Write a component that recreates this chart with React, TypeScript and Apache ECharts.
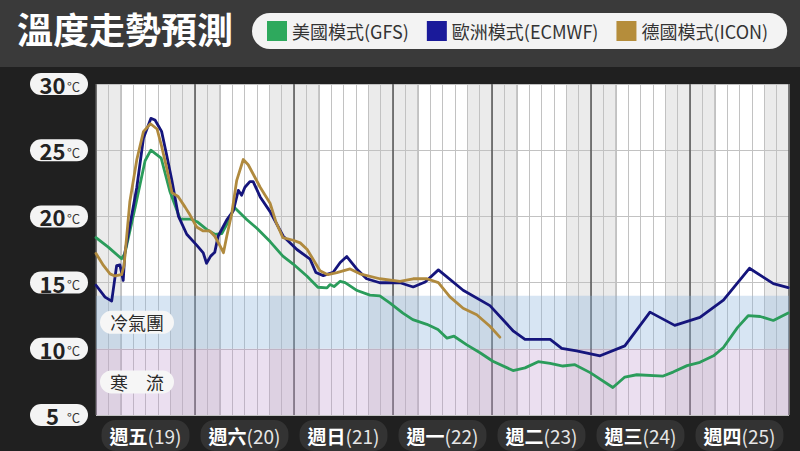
import React, { useEffect, useRef } from "react";
import * as echarts from "echarts";

const FONT = "'Noto Sans CJK TC', 'Noto Sans', sans-serif";

const titleText = "溫度走勢預測";
const seriesNames = ["美國模式(GFS)", "歐洲模式(ECMWF)", "德國模式(ICON)"];
const legendColors = ["#2ea95d", "#1a1a9a", "#b58d3b"];
const lineColors = ["#2b9c5b", "#15157c", "#b08a3e"];

const dayLabels = ["週五", "週六", "週日", "週一", "週二", "週三", "週四"];
const dayDates = ["19", "20", "21", "22", "23", "24", "25"];

// hours counted from Friday 19th 00:00
const gfsHours = [0, 2.9, 6.2, 7.0, 9.5, 11.9, 13.3, 15.8, 17.9, 20.4, 22.8, 24.5, 26.9, 28.8, 30.5, 32.5, 33.5, 36.6, 39.0, 42.2, 45.3, 47.8, 51.1, 53.8, 56.0, 56.7, 57.7, 59.2, 60.4, 63.3, 66.4, 68.8, 71.3, 74.4, 76.8, 80.2, 82.9, 85.1, 86.8, 89.9, 93.1, 96.2, 101.1, 104.0, 107.2, 110.1, 113.2, 116.1, 119.8, 125.3, 128.2, 131.1, 137.5, 139.9, 143.3, 146.4, 149.7, 152.1, 155.5, 158.1, 161.0, 164.2, 167.8];
const gfsTemps = [18.4, 17.7, 16.8, 17.2, 20.7, 24.2, 25.0, 24.4, 21.9, 19.8, 19.8, 19.6, 19.0, 18.65, 18.7, 19.85, 20.7, 19.75, 19.1, 18.1, 17.0, 16.4, 15.5, 14.65, 14.6, 14.85, 14.7, 15.1, 15.0, 14.4, 14.05, 14.0, 13.45, 12.7, 12.2, 11.85, 11.45, 10.8, 10.95, 10.3, 9.7, 9.06, 8.36, 8.56, 9.03, 8.9, 8.7, 8.8, 8.2, 7.08, 7.87, 8.04, 7.94, 8.24, 8.73, 8.98, 9.47, 10.1, 11.6, 12.5, 12.44, 12.14, 12.7];

const ecmwfHours = [0, 2.2, 3.8, 5.0, 5.8, 6.6, 7.0, 9.9, 11.5, 13.3, 14.3, 15.9, 17.1, 18.4, 20.0, 22.0, 24.4, 26.0, 26.8, 27.8, 28.8, 29.6, 31.7, 33.3, 34.5, 35.3, 36.1, 37.3, 38.1, 39.8, 42.2, 45.4, 48.7, 51.9, 53.3, 55.1, 57.5, 59.2, 60.8, 63.2, 65.6, 68.8, 73.7, 76.9, 79.8, 83.0, 89.0, 95.5, 101.2, 104.0, 110.1, 112.9, 116.5, 122.2, 128.2, 134.3, 140.3, 146.4, 152.1, 158.4, 164.2, 167.8];
const ecmwfTemps = [14.8, 13.9, 13.6, 16.28, 16.33, 15.16, 17.26, 22.2, 25.9, 27.4, 27.28, 26.42, 24.68, 22.7, 20.0, 18.65, 17.83, 17.24, 16.46, 17.0, 17.3, 18.5, 19.74, 20.43, 21.97, 21.6, 22.2, 22.63, 22.63, 21.47, 20.36, 18.5, 17.5, 16.77, 15.76, 15.53, 15.78, 16.52, 16.97, 16.03, 15.29, 14.99, 14.99, 14.67, 15.04, 15.96, 14.42, 13.26, 11.33, 10.71, 10.71, 10.04, 9.84, 9.47, 10.22, 12.77, 11.77, 12.37, 13.68, 16.08, 14.92, 14.62];

const iconHours = [0, 1.8, 3.4, 4.6, 6.2, 6.8, 8.2, 9.9, 11.5, 13.2, 14.8, 15.9, 17.1, 18.4, 19.9, 21.6, 22.8, 24.4, 26.0, 27.6, 28.8, 30.1, 30.9, 31.7, 32.9, 34.1, 35.7, 36.9, 38.1, 39.8, 42.2, 43.6, 45.3, 47.8, 49.5, 51.2, 54.3, 56.2, 58.4, 61.6, 64.0, 68.8, 73.7, 76.9, 80.2, 83.0, 85.8, 89.0, 92.3, 95.5, 97.9];
const iconTemps = [17.2, 16.3, 15.66, 15.5, 15.6, 16.3, 21.1, 24.3, 26.4, 27.0, 26.6, 25.3, 23.7, 21.8, 21.5, 20.7, 20.1, 19.2, 18.9, 18.9, 18.5, 17.76, 17.26, 18.5, 20.2, 22.7, 24.3, 23.9, 23.2, 22.2, 21.0, 19.6, 18.4, 18.2, 18.0, 17.5, 15.9, 15.6, 15.75, 16.03, 15.66, 15.29, 15.09, 15.29, 15.29, 15.0, 13.92, 13.06, 12.57, 11.7, 10.88];

// night (shaded) and day (white) column spans in hours
const nightSpans = [[0, 6], [18, 30], [42, 54], [66, 78], [90, 102], [114, 126], [138, 150], [162, 168]];
const daySpans = [[6, 18], [30, 42], [54, 66], [78, 90], [102, 114], [126, 138], [150, 162]];

const coldAirBand = [10, 14];
const coldWaveBand = [5, 10];
const bandNames = ["冷氣團", "寒　流"];

export default function App() {
  const ref = useRef<HTMLDivElement>(null);
  useEffect(() => {
    if (!ref.current) return;
    const chart = echarts.init(ref.current, undefined, { renderer: "svg" });
    const bandLabel = {
      show: true,
      position: "insideLeft",
      distance: 4,
      color: "#2a2a2a",
      fontSize: 18,
      fontFamily: FONT,
      backgroundColor: "#f6f6f6",
      borderRadius: 12,
      padding: [3, 10, 2, 10],
    };
    const dataSets = [
      [gfsHours, gfsTemps],
      [ecmwfHours, ecmwfTemps],
      [iconHours, iconTemps],
    ];
    const option: any = {
      animation: false,
      backgroundColor: "#202020",
      graphic: [
        {
          type: "rect",
          z: 0,
          silent: true,
          shape: { x: 0, y: 0, width: 800, height: 67 },
          style: { fill: "#3a3a3a" },
        },
      ],
      title: {
        text: titleText,
        left: 12,
        top: 5,
        z: 5,
        textStyle: { color: "#ffffff", fontSize: 36, fontWeight: "bold", fontFamily: FONT },
      },
      legend: {
        left: 252,
        top: 13,
        z: 5,
        itemWidth: 20,
        itemHeight: 20,
        itemGap: 18,
        icon: "rect",
        backgroundColor: "#f3f3f3",
        borderRadius: 19,
        padding: [8, 19, 8, 15],
        textStyle: { color: "#333", fontSize: 18, fontFamily: FONT },
        data: seriesNames.map((n, i) => ({ name: n, itemStyle: { color: legendColors[i], borderWidth: 0 } })),
      },
      grid: { left: 96, right: 11, top: 84, bottom: 29, containLabel: false },
      xAxis: [
        {
          type: "value",
          min: 0,
          max: 168,
          interval: 3,
          position: "top",
          z: 1.5,
          axisLine: { show: false },
          axisTick: { show: false },
          axisLabel: { show: false },
          splitLine: { show: true, lineStyle: { color: "#c2c2c2", width: 1 } },
        },
        {
          type: "category",
          data: dayLabels,
          boundaryGap: true,
          position: "bottom",
          z: 1.6,
          axisLine: { show: false },
          axisTick: { show: false },
          splitLine: { show: true, interval: 0, lineStyle: { color: "#555555", width: 1.5 } },
          axisLabel: {
            interval: 0,
            margin: 5,
            backgroundColor: "#333333",
            borderRadius: 14,
            padding: [4, 8, 5, 8],
            formatter: (v: string, i: number) => `{d|${v}}{n|(${dayDates[i]})}`,
            rich: {
              d: { fontSize: 19, fontWeight: "bold", color: "#ffffff", fontFamily: FONT, lineHeight: 22 },
              n: { fontSize: 19, color: "#e6e6e6", fontFamily: FONT, lineHeight: 22 },
            },
          },
        },
      ],
      yAxis: {
        type: "value",
        min: 5,
        max: 30,
        interval: 5,
        z: 1.5,
        axisLine: { show: false },
        axisTick: { show: false },
        splitLine: { show: true, lineStyle: { color: "#c2c2c2", width: 1 } },
        axisLabel: {
          margin: 8,
          backgroundColor: "#f4f4f4",
          borderRadius: 11,
          padding: [0, 7, 0, 10],
          formatter: (v: number) => `{v|${v}}{u|°C}`,
          rich: {
            v: { fontSize: 22, fontWeight: "bold", color: "#222", width: 25, align: "center", lineHeight: 22, fontFamily: FONT },
            u: { fontSize: 13, color: "#333", width: 15, align: "left", lineHeight: 22, padding: [4, 0, 0, 1], fontFamily: FONT },
          },
        },
      },
      series: [
        {
          type: "line",
          name: "__columns",
          data: [],
          z: 1,
          silent: true,
          markArea: {
            silent: true,
            z: 1,
            data: [
              ...daySpans.map((s) => [{ xAxis: s[0], itemStyle: { color: "#ffffff" } }, { xAxis: s[1] }]),
              ...nightSpans.map((s) => [{ xAxis: s[0], itemStyle: { color: "#ebebeb" } }, { xAxis: s[1] }]),
            ],
          },
        },
        {
          type: "line",
          name: "__bands",
          data: [],
          z: 1.8,
          silent: true,
          markArea: {
            silent: true,
            z: 1.8,
            data: [
              [
                { yAxis: coldAirBand[0], name: bandNames[0], itemStyle: { color: "rgba(140,180,220,0.35)" }, label: bandLabel },
                { yAxis: coldAirBand[1] },
              ],
              [
                { yAxis: coldWaveBand[0], name: bandNames[1], itemStyle: { color: "rgba(190,150,205,0.3)" }, label: bandLabel },
                { yAxis: coldWaveBand[1] },
              ],
            ],
          },
        },
        ...seriesNames.map((n, i) => ({
          type: "line",
          name: n,
          xAxisIndex: 0,
          yAxisIndex: 0,
          z: 3 + i,
          showSymbol: false,
          symbol: "none",
          color: legendColors[i],
          lineStyle: { color: lineColors[i], width: 2.8, join: "round", cap: "round" },
          data: dataSets[i][0].map((h, k) => [h, dataSets[i][1][k]]),
        })),
      ],
    };
    chart.setOption(option);
    return () => chart.dispose();
  }, []);
  return <div ref={ref} style={{ position: "fixed", left: 0, top: 0, width: 800, height: 451 }} />;
}
